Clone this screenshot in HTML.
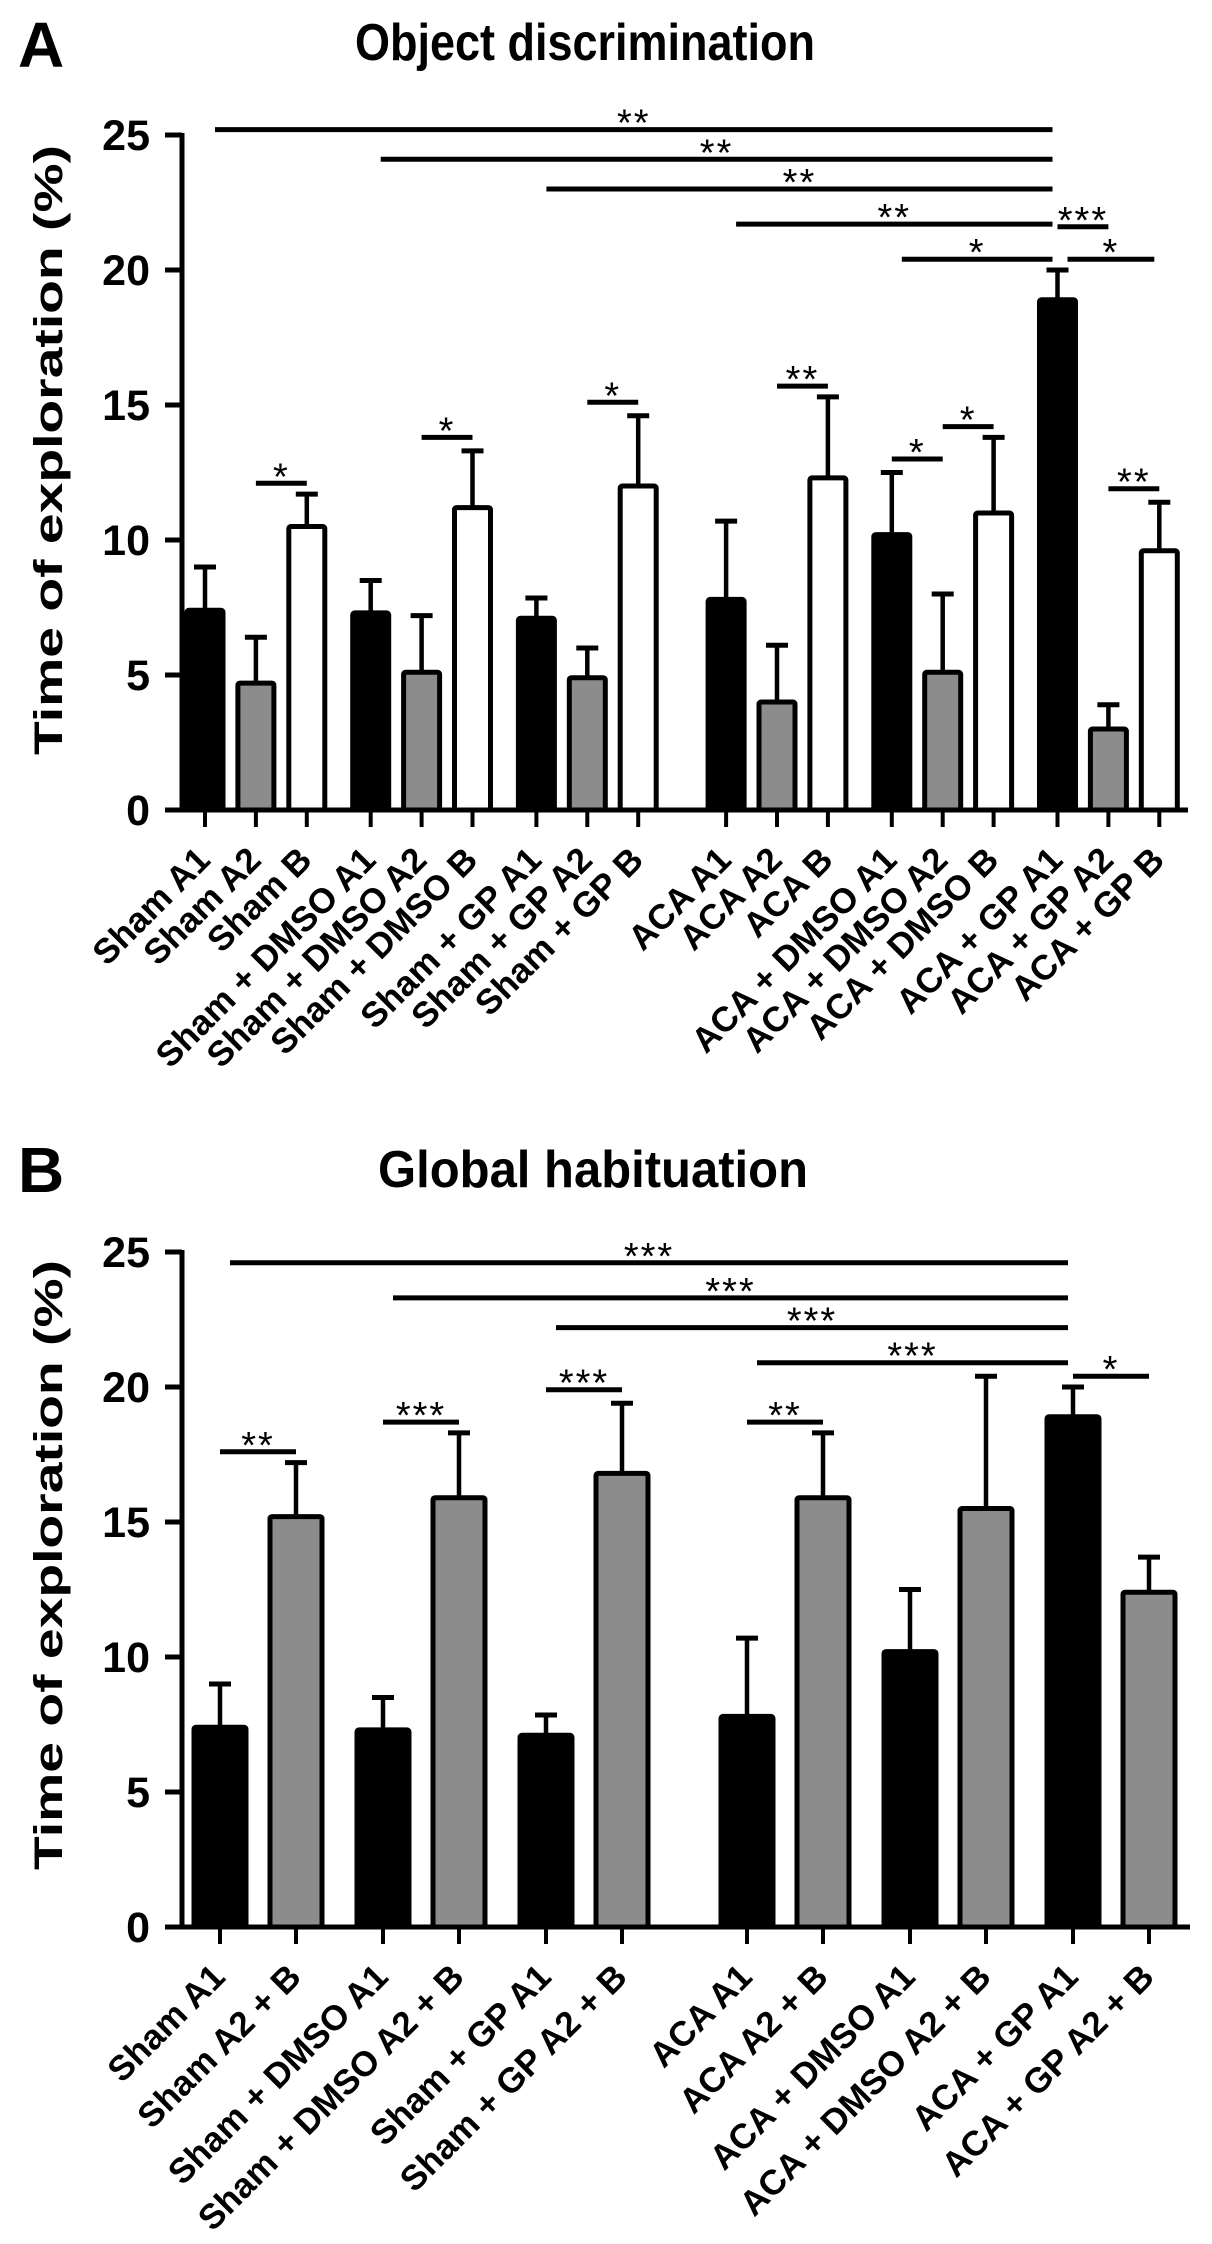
<!DOCTYPE html>
<html><head><meta charset="utf-8">
<style>
html,body{margin:0;padding:0;background:#fff;}
svg{display:block;font-family:"Liberation Sans",Arial,sans-serif;}
</style></head>
<body>
<svg id="fig" width="1212" height="2244" viewBox="0 0 1212 2244" xmlns="http://www.w3.org/2000/svg">
<text x="18" y="67" font-size="64" font-weight="bold">A</text>
<text x="585" y="60" font-size="52" font-weight="bold" text-anchor="middle" textLength="460" lengthAdjust="spacingAndGlyphs">Object discrimination</text>
<text x="18" y="1192" font-size="64" font-weight="bold">B</text>
<text x="593" y="1187" font-size="52" font-weight="bold" text-anchor="middle" textLength="430" lengthAdjust="spacingAndGlyphs">Global habituation</text>
<text transform="translate(62,450) rotate(-90)" font-size="40" font-weight="bold" text-anchor="middle" textLength="610" lengthAdjust="spacingAndGlyphs">Time of exploration (%)</text>
<text transform="translate(62,1565) rotate(-90)" font-size="40" font-weight="bold" text-anchor="middle" textLength="610" lengthAdjust="spacingAndGlyphs">Time of exploration (%)</text>
<g id="panelA"></g>
<g id="panelB"></g>
</svg>
<script>
const catsA = ["Sham A1","Sham A2","Sham B","Sham + DMSO A1","Sham + DMSO A2","Sham + DMSO B","Sham + GP A1","Sham + GP A2","Sham + GP B","ACA A1","ACA A2","ACA B","ACA + DMSO A1","ACA + DMSO A2","ACA + DMSO B","ACA + GP A1","ACA + GP A2","ACA + GP B"];
const meanA = [7.4,4.7,10.5, 7.3,5.1,11.2, 7.1,4.9,12.0, 7.8,4.0,12.3, 10.2,5.1,11.0, 18.9,3.0,9.6];
const errTopA = [9.0,6.4,11.7, 8.5,7.2,13.3, 7.85,6.0,14.6, 10.7,6.1,15.3, 12.5,8.0,13.8, 20.0,3.9,11.4];
const kindA = ["A1","A2","B","A1","A2","B","A1","A2","B","A1","A2","B","A1","A2","B","A1","A2","B"];
const sigFromA = [0,3,6,9,15,12,15,1,4,7,10,12,13,16];
const sigToA   = [15,15,15,15,16,15,17,2,5,8,11,13,14,17];
const sigYA    = [25.2,24.1,23.0,21.7,21.6,20.4,20.4,12.1,13.8,15.1,15.7,13.0,14.2,11.9];
const sigLabA  = ["**","**","**","**","***","*","*","*","*","*","**","*","*","**"];

const catsB = ["Sham A1","Sham A2 + B","Sham + DMSO A1","Sham + DMSO A2 + B","Sham + GP A1","Sham + GP A2 + B","ACA A1","ACA A2 + B","ACA + DMSO A1","ACA + DMSO A2 + B","ACA + GP A1","ACA + GP A2 + B"];
const meanB = [7.4,15.2, 7.3,15.9, 7.1,16.8, 7.8,15.9, 10.2,15.5, 18.9,12.4];
const errTopB = [9.0,17.2, 8.5,18.3, 7.85,19.4, 10.7,18.3, 12.5,20.4, 20.0,13.7];
const kindB = ["A1","A2","A1","A2","A1","A2","A1","A2","A1","A2","A1","A2"];
const sigFromB = [0,2,4,6,10,0,2,4,6];
const sigToB   = [10,10,10,10,11,1,3,5,7];
const sigYB    = [24.6,23.3,22.2,20.9,20.4,17.6,18.7,19.9,18.7];
const sigLabB  = ["***","***","***","***","*","**","***","***","**"];
const ticks = [0,5,10,15,20,25];

const NS = "http://www.w3.org/2000/svg";
function mk(parent, tag, attrs){const e=document.createElementNS(NS,tag);for(const k in attrs)e.setAttribute(k,attrs[k]);parent.appendChild(e);return e;}
const fills = {A1:"#000",A2:"#8c8c8c",B:"#fff"};

function drawPanel(g, cfg){
  const y = v => cfg.y0 - v*cfg.ppu;
  const x = cfg.x;
  cfg.means.forEach((m,i)=>{
    const cx = x(i);
    const eb = mk(g,"line",{x1:cx,x2:cx,y1:y(m),y2:y(cfg.errs[i]),stroke:"#000","stroke-width":4.5});
    
    
    const cap = mk(g,"line",{x1:cx-11,x2:cx+11,y1:y(cfg.errs[i]),y2:y(cfg.errs[i]),stroke:"#000","stroke-width":5});
    
    
    const r = mk(g,"rect",{x:cx-cfg.bw/2,y:y(m),width:cfg.bw,height:y(0)-y(m),fill:fills[cfg.kinds[i]],stroke:"#000","stroke-width":5,rx:2});
    
    
    const t = mk(g,"line",{x1:cx,x2:cx,y1:y(0),y2:y(0)+17,stroke:"#000","stroke-width":4});
    
    
    const lb = mk(g,"text",{transform:`translate(${cx+7},${y(0)+52}) rotate(-45)`,"text-anchor":"end","font-size":35,"font-weight":"bold"});
    lb.textContent = cfg.cats[i];
    
    
  });
  const ya = mk(g,"line",{x1:182,x2:182,y1:y(25)-2,y2:y(0)+2,stroke:"#000","stroke-width":5});
  
  
  const xa = mk(g,"line",{x1:180,x2:cfg.xEnd,y1:y(0),y2:y(0),stroke:"#000","stroke-width":5});
  
  
  ticks.forEach(v=>{
    const tl = mk(g,"line",{x1:165,x2:182,y1:y(v),y2:y(v),stroke:"#000","stroke-width":5});
    
    
    const tt = mk(g,"text",{x:150,y:y(v)+15,"text-anchor":"end","font-size":43,"font-weight":"bold"});
    tt.textContent = v;
    
    
  });
  cfg.sFrom.forEach((f,k)=>{
    const big = cfg.sTo[k]-f > 1;
    const x1 = big ? x(f)+10 : x(f);
    const x2 = big ? x(cfg.sTo[k])-5 : x(cfg.sTo[k]);
    const sl = mk(g,"line",{x1:x1,x2:x2,y1:y(cfg.sY[k]),y2:y(cfg.sY[k]),stroke:"#000","stroke-width":5});
    
    
    const st = mk(g,"text",{x:(x1+x2)/2,y:y(cfg.sY[k])+6,"text-anchor":"middle","font-size":38,"letter-spacing":2});
    st.textContent = cfg.sLab[k];
    
    
  });
}

drawPanel(document.getElementById('panelA'),{
  y0:810, ppu:27, bw:36, xEnd:1188,
  x: i => 205 + i*50.9 + Math.floor(i/3)*13 + (i>=9?24:0),
  means:meanA, errs:errTopA, kinds:kindA, cats:catsA,
  sFrom:sigFromA, sTo:sigToA, sY:sigYA, sLab:sigLabA
});
drawPanel(document.getElementById('panelB'),{
  y0:1927, ppu:27, bw:52, xEnd:1190,
  x: i => 220 + i*76 + Math.floor(i/2)*11 + (i>=6?38:0),
  means:meanB, errs:errTopB, kinds:kindB, cats:catsB,
  sFrom:sigFromB, sTo:sigToB, sY:sigYB, sLab:sigLabB
});
</script>
</body></html>
